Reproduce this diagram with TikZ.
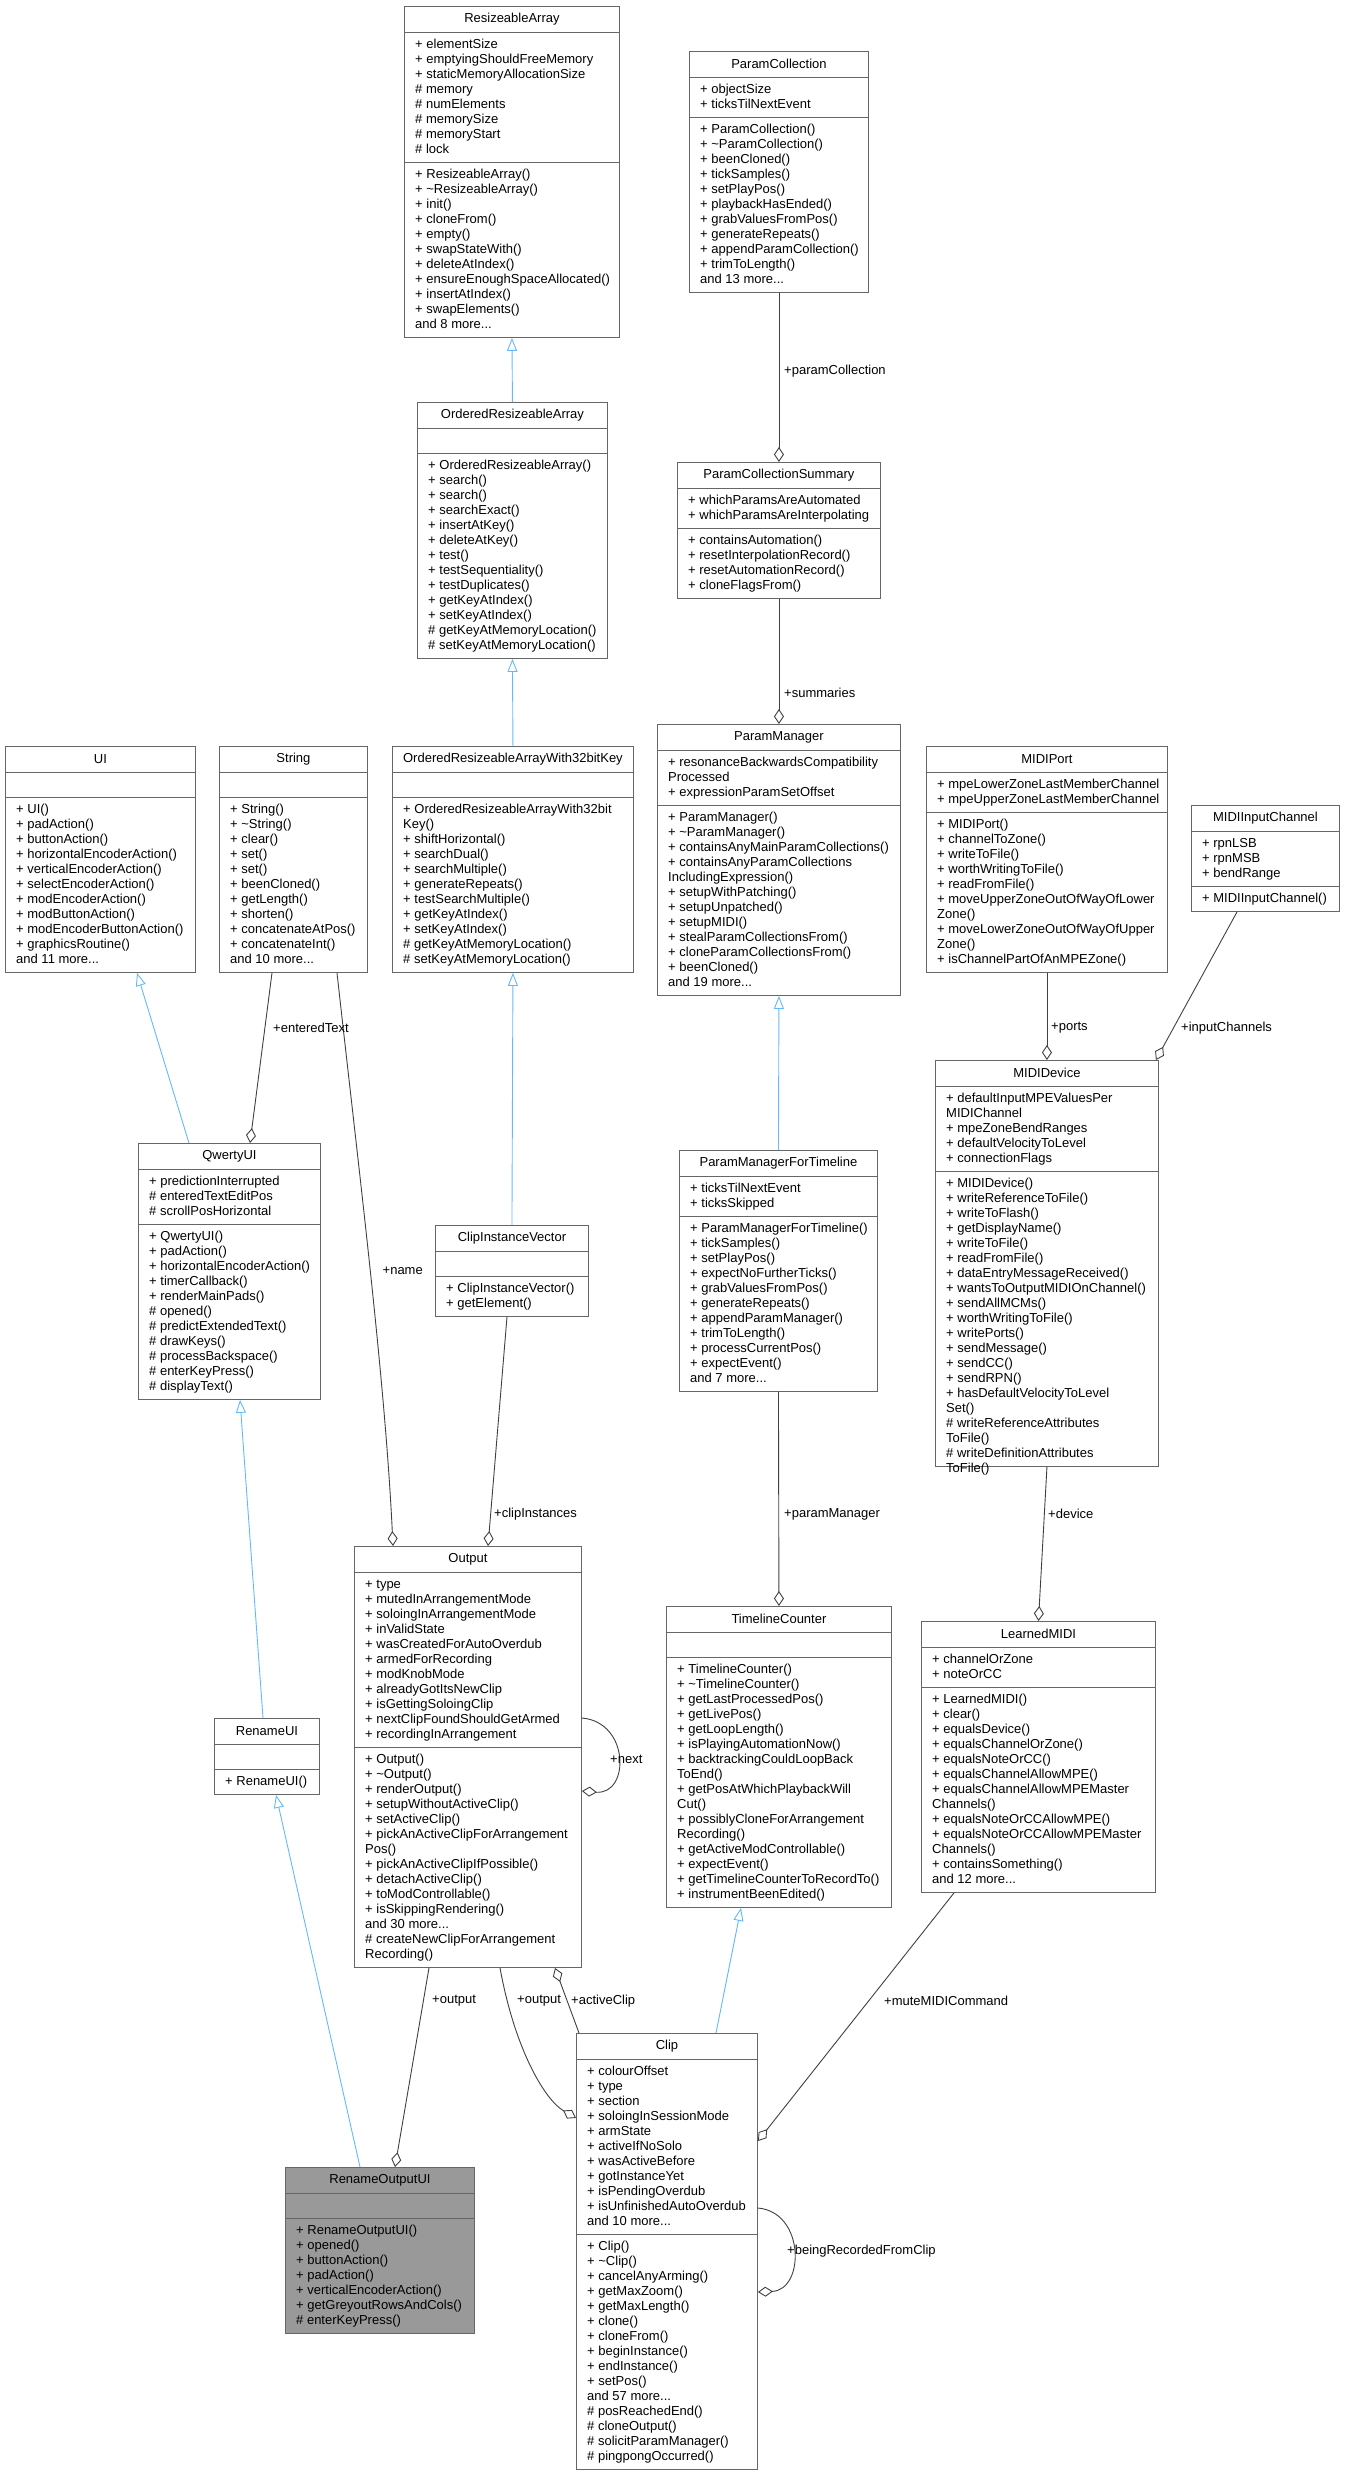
\documentclass[tikz,border=0pt]{standalone}
\usepackage{fontspec}
\setmainfont{Liberation Sans}
\usetikzlibrary{arrows.meta}
\definecolor{boxline}{HTML}{666666}
\definecolor{aggrline}{HTML}{404040}
\definecolor{inhline}{HTML}{63B8FF}
\definecolor{focusfill}{HTML}{999999}
\tikzset{
  classframe/.style={draw=boxline, line width=0.9pt, inner sep=0pt},
  members/.style={align=left, inner sep=0pt, font=\fontsize{13}{15}\selectfont},
  classtitle/.style={inner sep=0pt, font=\fontsize{13}{15}\selectfont},
  inherit/.style={draw=inhline, line width=0.9pt, -{Triangle[open, length=13pt, width=10pt]}},
  aggr/.style={draw=aggrline, line width=0.9pt, -{Diamond[open, length=15pt, width=10pt]}},
  lbl/.style={inner sep=1pt, font=\fontsize{13}{15}\selectfont},
}
% class box: [fill]{name}{x,y}{width}{title}{#attrs}{attrs}{#methods}{methods}
\newcommand\classbox[9][white]{%
  \pgfmathsetmacro\hA{max(#6,1)*15+10}%
  \pgfmathsetmacro\hM{#8*15+10}%
  \pgfmathsetmacro\hH{26+\hA+\hM}%
  \node[classframe, fill=#1, minimum width=#4pt, minimum height=\hH pt, anchor=north west] (#2) at (#3) {};
  \draw[boxline, line width=0.9pt] ([yshift=-26pt]#2.north west) -- ([yshift=-26pt]#2.north east);
  \draw[boxline, line width=0.9pt] ([yshift=-26pt-\hA pt]#2.north west) -- ([yshift=-26pt-\hA pt]#2.north east);
  \node[classtitle] (#2-t) at ([yshift=-13pt]#2.north) {#5};
  \node[members, anchor=north west] (#2-a) at ([xshift=11pt, yshift=-31pt]#2.north west) {\rule{0pt}{11pt}#7};
  \node[members, anchor=north west] (#2-m) at ([xshift=11pt, yshift=-31pt-\hA pt]#2.north west) {\rule{0pt}{11pt}#9};
}
\newcommand\tl{\textasciitilde}
\begin{document}
\begin{tikzpicture}[x=1pt, y=-1pt]
\useasboundingbox (0,0) rectangle (1344,2476);
% top row
\classbox{ra}{404,6}{215}{ResizeableArray}{8}{+ elementSize\\+ emptyingShouldFreeMemory\\+ staticMemoryAllocationSize\\\# memory\\\# numElements\\\# memorySize\\\# memoryStart\\\# lock}{11}{+ ResizeableArray()\\+ \tl ResizeableArray()\\+ init()\\+ cloneFrom()\\+ empty()\\+ swapStateWith()\\+ deleteAtIndex()\\+ ensureEnoughSpaceAllocated()\\+ insertAtIndex()\\+ swapElements()\\and 8 more...}
\classbox{pc}{689,51}{179}{ParamCollection}{2}{+ objectSize\\+ ticksTilNextEvent}{11}{+ ParamCollection()\\+ \tl ParamCollection()\\+ beenCloned()\\+ tickSamples()\\+ setPlayPos()\\+ playbackHasEnded()\\+ grabValuesFromPos()\\+ generateRepeats()\\+ appendParamCollection()\\+ trimToLength()\\and 13 more...}
\classbox{ora}{417,402}{190}{OrderedResizeableArray}{0}{}{13}{+ OrderedResizeableArray()\\+ search()\\+ search()\\+ searchExact()\\+ insertAtKey()\\+ deleteAtKey()\\+ test()\\+ testSequentiality()\\+ testDuplicates()\\+ getKeyAtIndex()\\+ setKeyAtIndex()\\\# getKeyAtMemoryLocation()\\\# setKeyAtMemoryLocation()}
\classbox{pcs}{677,462}{203}{ParamCollectionSummary}{2}{+ whichParamsAreAutomated\\+ whichParamsAreInterpolating}{4}{+ containsAutomation()\\+ resetInterpolationRecord()\\+ resetAutomationRecord()\\+ cloneFlagsFrom()}
% middle row
\classbox{ui}{5,746}{190}{UI}{0}{}{11}{+ UI()\\+ padAction()\\+ buttonAction()\\+ horizontalEncoderAction()\\+ verticalEncoderAction()\\+ selectEncoderAction()\\+ modEncoderAction()\\+ modButtonAction()\\+ modEncoderButtonAction()\\+ graphicsRoutine()\\and 11 more...}
\classbox{string}{219,746}{148}{String}{0}{}{11}{+ String()\\+ \tl String()\\+ clear()\\+ set()\\+ set()\\+ beenCloned()\\+ getLength()\\+ shorten()\\+ concatenateAtPos()\\+ concatenateInt()\\and 10 more...}
\classbox{oraw}{392,746}{241}{OrderedResizeableArrayWith32bitKey}{0}{}{11}{+ OrderedResizeableArrayWith32bit\\Key()\\+ shiftHorizontal()\\+ searchDual()\\+ searchMultiple()\\+ generateRepeats()\\+ testSearchMultiple()\\+ getKeyAtIndex()\\+ setKeyAtIndex()\\\# getKeyAtMemoryLocation()\\\# setKeyAtMemoryLocation()}
\classbox{pm}{657,724}{243}{ParamManager}{3}{+ resonanceBackwardsCompatibility\\Processed\\+ expressionParamSetOffset}{12}{+ ParamManager()\\+ \tl ParamManager()\\+ containsAnyMainParamCollections()\\+ containsAnyParamCollections\\IncludingExpression()\\+ setupWithPatching()\\+ setupUnpatched()\\+ setupMIDI()\\+ stealParamCollectionsFrom()\\+ cloneParamCollectionsFrom()\\+ beenCloned()\\and 19 more...}
\classbox{mport}{926,746}{241}{MIDIPort}{2}{+ mpeLowerZoneLastMemberChannel\\+ mpeUpperZoneLastMemberChannel}{10}{+ MIDIPort()\\+ channelToZone()\\+ writeToFile()\\+ worthWritingToFile()\\+ readFromFile()\\+ moveUpperZoneOutOfWayOfLower\\Zone()\\+ moveLowerZoneOutOfWayOfUpper\\Zone()\\+ isChannelPartOfAnMPEZone()}
\classbox{mic}{1191,805}{148}{MIDIInputChannel}{3}{+ rpnLSB\\+ rpnMSB\\+ bendRange}{1}{+ MIDIInputChannel()}
\classbox{qwerty}{138,1143}{182}{QwertyUI}{3}{+ predictionInterrupted\\\# enteredTextEditPos\\\# scrollPosHorizontal}{11}{+ QwertyUI()\\+ padAction()\\+ horizontalEncoderAction()\\+ timerCallback()\\+ renderMainPads()\\\# opened()\\\# predictExtendedText()\\\# drawKeys()\\\# processBackspace()\\\# enterKeyPress()\\\# displayText()}
\classbox{civ}{435,1225}{153}{ClipInstanceVector}{0}{}{2}{+ ClipInstanceVector()\\+ getElement()}
\classbox{pmft}{679,1150}{198}{ParamManagerForTimeline}{2}{+ ticksTilNextEvent\\+ ticksSkipped}{11}{+ ParamManagerForTimeline()\\+ tickSamples()\\+ setPlayPos()\\+ expectNoFurtherTicks()\\+ grabValuesFromPos()\\+ generateRepeats()\\+ appendParamManager()\\+ trimToLength()\\+ processCurrentPos()\\+ expectEvent()\\and 7 more...}
\classbox{md}{935,1060}{223}{MIDIDevice}{5}{+ defaultInputMPEValuesPer\\MIDIChannel\\+ mpeZoneBendRanges\\+ defaultVelocityToLevel\\+ connectionFlags}{19}{+ MIDIDevice()\\+ writeReferenceToFile()\\+ writeToFlash()\\+ getDisplayName()\\+ writeToFile()\\+ readFromFile()\\+ dataEntryMessageReceived()\\+ wantsToOutputMIDIOnChannel()\\+ sendAllMCMs()\\+ worthWritingToFile()\\+ writePorts()\\+ sendMessage()\\+ sendCC()\\+ sendRPN()\\+ hasDefaultVelocityToLevel\\Set()\\\# writeReferenceAttributes\\ToFile()\\\# writeDefinitionAttributes\\ToFile()}
% lower row
\classbox{output}{354,1546}{227}{Output}{11}{+ type\\+ mutedInArrangementMode\\+ soloingInArrangementMode\\+ inValidState\\+ wasCreatedForAutoOverdub\\+ armedForRecording\\+ modKnobMode\\+ alreadyGotItsNewClip\\+ isGettingSoloingClip\\+ nextClipFoundShouldGetArmed\\+ recordingInArrangement}{14}{+ Output()\\+ \tl Output()\\+ renderOutput()\\+ setupWithoutActiveClip()\\+ setActiveClip()\\+ pickAnActiveClipForArrangement\\Pos()\\+ pickAnActiveClipIfPossible()\\+ detachActiveClip()\\+ toModControllable()\\+ isSkippingRendering()\\and 30 more...\\\# createNewClipForArrangement\\Recording()}
\classbox{tlc}{666,1606}{225}{TimelineCounter}{0}{}{16}{+ TimelineCounter()\\+ \tl TimelineCounter()\\+ getLastProcessedPos()\\+ getLivePos()\\+ getLoopLength()\\+ isPlayingAutomationNow()\\+ backtrackingCouldLoopBack\\ToEnd()\\+ getPosAtWhichPlaybackWill\\Cut()\\+ possiblyCloneForArrangement\\Recording()\\+ getActiveModControllable()\\+ expectEvent()\\+ getTimelineCounterToRecordTo()\\+ instrumentBeenEdited()}
\classbox{lm}{921,1621}{234}{LearnedMIDI}{2}{+ channelOrZone\\+ noteOrCC}{13}{+ LearnedMIDI()\\+ clear()\\+ equalsDevice()\\+ equalsChannelOrZone()\\+ equalsNoteOrCC()\\+ equalsChannelAllowMPE()\\+ equalsChannelAllowMPEMaster\\Channels()\\+ equalsNoteOrCCAllowMPE()\\+ equalsNoteOrCCAllowMPEMaster\\Channels()\\+ containsSomething()\\and 12 more...}
\classbox{renameui}{214,1718}{105}{RenameUI}{0}{}{1}{+ RenameUI()}
\classbox{clip}{576,2033}{181}{Clip}{11}{+ colourOffset\\+ type\\+ section\\+ soloingInSessionMode\\+ armState\\+ activeIfNoSolo\\+ wasActiveBefore\\+ gotInstanceYet\\+ isPendingOverdub\\+ isUnfinishedAutoOverdub\\and 10 more...}{15}{+ Clip()\\+ \tl Clip()\\+ cancelAnyArming()\\+ getMaxZoom()\\+ getMaxLength()\\+ clone()\\+ cloneFrom()\\+ beginInstance()\\+ endInstance()\\+ setPos()\\and 57 more...\\\# posReachedEnd()\\\# cloneOutput()\\\# solicitParamManager()\\\# pingpongOccurred()}
\classbox[focusfill]{rou}{285,2167}{189}{RenameOutputUI}{0}{}{7}{+ RenameOutputUI()\\+ opened()\\+ buttonAction()\\+ padAction()\\+ verticalEncoderAction()\\+ getGreyoutRowsAndCols()\\\# enterKeyPress()}
% inheritance
\draw[inherit] (ora.north) -- (ra.south);
\draw[inherit] (oraw.north) -- (ora.south);
\draw[inherit] (civ.north) -- (oraw.south);
\draw[inherit] ([xshift=51pt]qwerty.north west) -- ([xshift=132pt]ui.south west);
\draw[inherit] ([xshift=49pt]renameui.north west) -- ([xshift=102pt]qwerty.south west);
\draw[inherit] ([xshift=75pt]rou.north west) -- ([xshift=62pt]renameui.south west);
\draw[inherit] (pmft.north) -- (pm.south);
\draw[inherit] ([xshift=140pt]clip.north west) -- ([xshift=75pt]tlc.south west);
% members
\draw[aggr] (pc.south) -- (pcs.north);
\draw[aggr] (pcs.south) -- (pm.north);
\draw[aggr] (pmft.south) -- (tlc.north);
\draw[aggr] (mport.south) -- (md.north);
\draw[aggr] (md.south) -- (lm.north);
\draw[aggr] ([xshift=46pt]mic.south west) -- ([xshift=-3pt]md.north east);
\draw[aggr] ([xshift=53pt]string.south west) -- ([xshift=112pt]qwerty.north west);
\draw[aggr] ([xshift=118pt]string.south west) .. controls (360,1180) and (385,1380) .. ([xshift=39pt]output.north west);
\draw[aggr] ([xshift=72pt]civ.south west) -- ([xshift=134pt]output.north west);
\draw[aggr] ([yshift=-172pt]output.north east) .. controls (630,1722) and (630,1795) .. ([yshift=-245pt]output.north east);
\draw[aggr] ([xshift=75pt]output.south west) -- ([xshift=110pt]rou.north west);
\draw[aggr] ([xshift=146pt]output.south west) .. controls (515,2050) and (545,2100) .. ([yshift=-85pt]clip.north west);
\draw[aggr] ([xshift=3pt]clip.north west) -- ([xshift=201pt]output.south west);
\draw[aggr] ([xshift=33pt]lm.south west) -- ([yshift=-108pt]clip.north east);
\draw[aggr] ([yshift=-175pt]clip.north east) .. controls (805,2212) and (805,2290) .. ([yshift=-259pt]clip.north east);
% labels
\node[lbl, anchor=west] (l-pc) at (783,371) {+paramCollection};
\node[lbl, anchor=west] (l-sum) at (783,693) {+summaries};
\node[lbl, anchor=west] (l-text) at (272,1028) {+enteredText};
\node[lbl, anchor=east] (l-name) at (424,1271) {+name};
\node[lbl, anchor=west] (l-ci) at (493,1514) {+clipInstances};
\node[lbl, anchor=west] (l-next) at (609,1759) {+next};
\node[lbl, anchor=west] (l-out1) at (431,2001) {+output};
\node[lbl, anchor=west] (l-out2) at (516,2001) {+output};
\node[lbl, anchor=west] (l-ac) at (570,2001) {+activeClip};
\node[lbl, anchor=west] (l-brc) at (786,2251) {+beingRecordedFromClip};
\node[lbl, anchor=west] (l-pm) at (783,1514) {+paramManager};
\node[lbl, anchor=west] (l-ports) at (1050,1028) {+ports};
\node[lbl, anchor=west] (l-ic) at (1180,1028) {+inputChannels};
\node[lbl, anchor=west] (l-dev) at (1047,1514) {+device};
\node[lbl, anchor=west] (l-mute) at (883,2001) {+muteMIDICommand};
\end{tikzpicture}
\end{document}
